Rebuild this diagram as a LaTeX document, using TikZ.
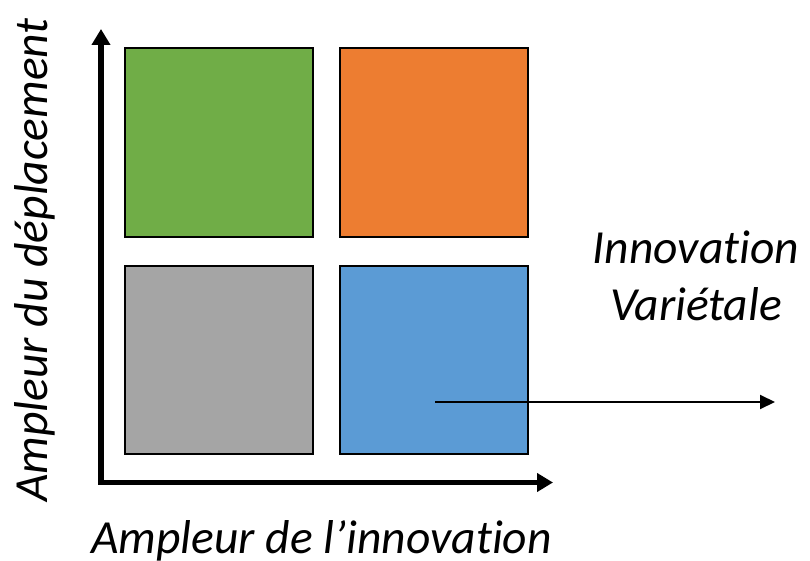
\documentclass[tikz,border=0pt]{standalone}
\usepackage{fontspec}
\setmainfont[Ligatures=NoCommon]{Carlito}
\usetikzlibrary{arrows.meta}
\definecolor{qgreen}{HTML}{70AD47}
\definecolor{qorange}{HTML}{ED7D31}
\definecolor{qgray}{HTML}{A5A5A5}
\definecolor{qblue}{HTML}{5B9BD5}
\begin{document}
\begin{tikzpicture}[x=1pt,y=-1pt,
  quad/.style={draw=black,line width=2pt,minimum width=188pt,minimum height=188pt,
    inner sep=0pt,outer sep=0pt,anchor=north west},
  axis/.style={line width=5.5pt},
  lbl/.style={font=\fontsize{47.5}{57}\selectfont\itshape,inner sep=0pt},
  pointer/.style={line width=2pt,-{Triangle[length=15pt,width=14pt]}}]
  \useasboundingbox (0,0) rectangle (810,561);
  % the four quadrants
  \node[quad,fill=qgreen]  (tl) at (125,48.5) {};
  \node[quad,fill=qorange] (tr) at (340,48.5) {};
  \node[quad,fill=qgray]   (bl) at (125,266)  {};
  \node[quad,fill=qblue]   (br) at (340,266)  {};
  % axes
  \coordinate (ytip) at (101,29);
  \coordinate (origin) at (101,482.5);
  \coordinate (xtip) at (553,482.5);
  \draw[axis,{Triangle[length=16pt,width=18pt]}-{Triangle[length=16pt,width=18pt]}]
    (ytip) -- (origin) -- (xtip);
  % axis labels
  \node[lbl,anchor=base] (xlab) at (321.5,553) {Ampleur de l’innovation};
  \node[lbl,anchor=base,rotate=90] (ylab) at (47,260) {Ampleur du déplacement};
  % annotation
  \node[lbl,align=center,anchor=base] (inno) at (696,320) {Innovation\\Variétale};
  \coordinate (pstart) at (435,402);
  \coordinate (pend) at (775,402);
  \draw[pointer] (pstart) -- (pend);
\end{tikzpicture}
\end{document}
